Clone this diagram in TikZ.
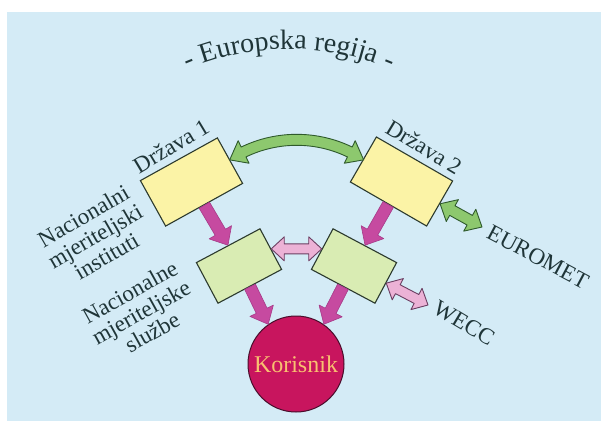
\documentclass[tikz,border=0pt]{standalone}
\usepackage{fontspec}
\setmainfont{Liberation Serif}
\usetikzlibrary{calc,decorations.text}
\definecolor{bg}{HTML}{D4EBF6}
\definecolor{ink}{HTML}{1F3538}
\definecolor{yellowbox}{HTML}{FBF3A6}
\definecolor{greenbox}{HTML}{D9ECB3}
\definecolor{boxline}{HTML}{2C3A2E}
\definecolor{magarrow}{HTML}{C64AA0}
\definecolor{magline}{HTML}{A63A88}
\definecolor{pinkarrow}{HTML}{ECB2D6}
\definecolor{pinkline}{HTML}{6B3F62}
\definecolor{grarrow}{HTML}{8DC86E}
\definecolor{grline}{HTML}{2F5A2C}
\definecolor{korfill}{HTML}{C8155E}
\definecolor{korline}{HTML}{4A0E2C}
\definecolor{kortext}{HTML}{F8C070}
\newcommand\titlesize{\fontsize{28}{32}\selectfont}
\newcommand\lblsize{\fontsize{23}{23}\selectfont}
\def\faw{6pt}\def\faH{13pt}\def\fah{15pt}
\tikzset{
  fa shaft/.code={\def\faw{#1}},
  fa head/.code={\def\faH{#1}},
  fa len/.code={\def\fah{#1}},
  single fat/.style={to path={
    ($(\tikztostart)!\faw!90:(\tikztotarget)$)
    -- ($($(\tikztotarget)!\fah!(\tikztostart)$)!\faw!90:(\tikztotarget)$)
    -- ($($(\tikztotarget)!\fah!(\tikztostart)$)!\faH!90:(\tikztotarget)$)
    -- (\tikztotarget)
    -- ($($(\tikztotarget)!\fah!(\tikztostart)$)!\faH!-90:(\tikztotarget)$)
    -- ($($(\tikztotarget)!\fah!(\tikztostart)$)!\faw!-90:(\tikztotarget)$)
    -- ($(\tikztostart)!\faw!-90:(\tikztotarget)$) -- cycle}},
  double fat/.style={to path={
    (\tikztostart)
    -- ($($(\tikztostart)!\fah!(\tikztotarget)$)!\faH!90:(\tikztotarget)$)
    -- ($($(\tikztostart)!\fah!(\tikztotarget)$)!\faw!90:(\tikztotarget)$)
    -- ($($(\tikztotarget)!\fah!(\tikztostart)$)!\faw!90:(\tikztotarget)$)
    -- ($($(\tikztotarget)!\fah!(\tikztostart)$)!\faH!90:(\tikztotarget)$)
    -- (\tikztotarget)
    -- ($($(\tikztotarget)!\fah!(\tikztostart)$)!\faH!-90:(\tikztotarget)$)
    -- ($($(\tikztotarget)!\fah!(\tikztostart)$)!\faw!-90:(\tikztotarget)$)
    -- ($($(\tikztostart)!\fah!(\tikztotarget)$)!\faw!-90:(\tikztotarget)$)
    -- ($($(\tikztostart)!\fah!(\tikztotarget)$)!\faH!-90:(\tikztotarget)$)
    -- cycle}},
  box/.style={draw=boxline, line width=1.1pt, inner sep=0pt},
  ybox/.style={box, fill=yellowbox, minimum width=88pt, minimum height=52pt},
  gbox/.style={box, fill=greenbox, minimum width=72pt, minimum height=46pt},
  magfat/.style={fill=magarrow, draw=magline, line width=0.6pt, line join=round,
    fa shaft=6pt, fa head=13pt, fa len=15pt, single fat},
  pinkfat/.style={fill=pinkarrow, draw=pinkline, line width=0.9pt, line join=round,
    fa shaft=5pt, fa head=12pt, fa len=13pt, double fat},
  greenfat/.style={fill=grarrow, draw=grline, line width=0.9pt, line join=round,
    fa shaft=5.5pt, fa head=12.5pt, fa len=14pt, double fat},
  greenfill/.style={fill=grarrow, draw=grline, line width=0.9pt, line join=round},
  lbl/.style={text=ink, font=\lblsize, inner sep=0pt, align=center},
}
\begin{document}
\begin{tikzpicture}[x=1pt,y=1pt]
\useasboundingbox (0,0) rectangle (601,421);
\fill[white] (0,0) rectangle (601,421);
\fill[bg] (7,0) rectangle (601,409);

% title
\path[decorate, decoration={text along path, text align=center,
  text={|\titlesize\color{ink}|- Europska regija -}}]
  (289,112) ++(135:260) arc[start angle=135, end angle=45, radius=260];

% boxes
\node[ybox, rotate=29] (y1) at (191.5,239) {};
\node[ybox, rotate=-30] (y2) at (401.5,239.5) {};
\node[gbox, rotate=28] (g1) at (239,155) {};
\node[gbox, rotate=-28] (g2) at (354,155) {};
\node[circle, minimum size=96pt, inner sep=0pt, fill=korfill, draw=korline,
  line width=1pt, text=kortext, font=\fontsize{24}{24}\selectfont] (k) at (296,57) {Korisnik};

% labels
\node[lbl, rotate=31] (d1) at (171,275) {Država 1};
\node[lbl, rotate=-31] (d2) at (424,274) {Država 2};
\node[lbl, rotate=-28] (eu) at (538,164) {EUROMET};
\node[lbl, rotate=-31] (we) at (464,98) {WECC};
\node[lbl, rotate=30] (nmi) at (95,185) {Nacionalni\\mjeriteljski\\instituti};
\node[lbl, rotate=29] (nms) at (141,109) {Nacionalne\\mjeriteljske\\službe};

% free ends
\coordinate (eurend) at (482,194);
\coordinate (wecend) at (428,116);

% magenta arrows
\draw[magfat] (y1.south) to (g1.north);
\draw[magfat] (y2.south) to (g2.north);
\draw[magfat] (g1.south) to (k.125);
\draw[magfat] (g2.south) to (k.55);

% pink double arrows
\draw[pinkfat] (g1.east) to (g2.west);
\draw[pinkfat] (g2.east) to (wecend);

% green double arrow to EUROMET
\draw[greenfat] (y2.east) to (eurend);

% curved green double arrow between states
\coordinate (arcc) at ($(y1.east)!0.5!(y2.west)+(0,-102)$);
\begin{scope}[shift={(arcc)}]
\draw[greenfill] (115.8:127.5) arc[start angle=115.8, end angle=64.2, radius=127.5]
  -- (64.2:134.5) -- (56.7:122) -- (64.2:109.5) -- (64.2:116.5)
  arc[start angle=64.2, end angle=115.8, radius=116.5]
  -- (115.8:109.5) -- (123.3:122) -- (115.8:134.5) -- cycle;
\end{scope}
\end{tikzpicture}
\end{document}
